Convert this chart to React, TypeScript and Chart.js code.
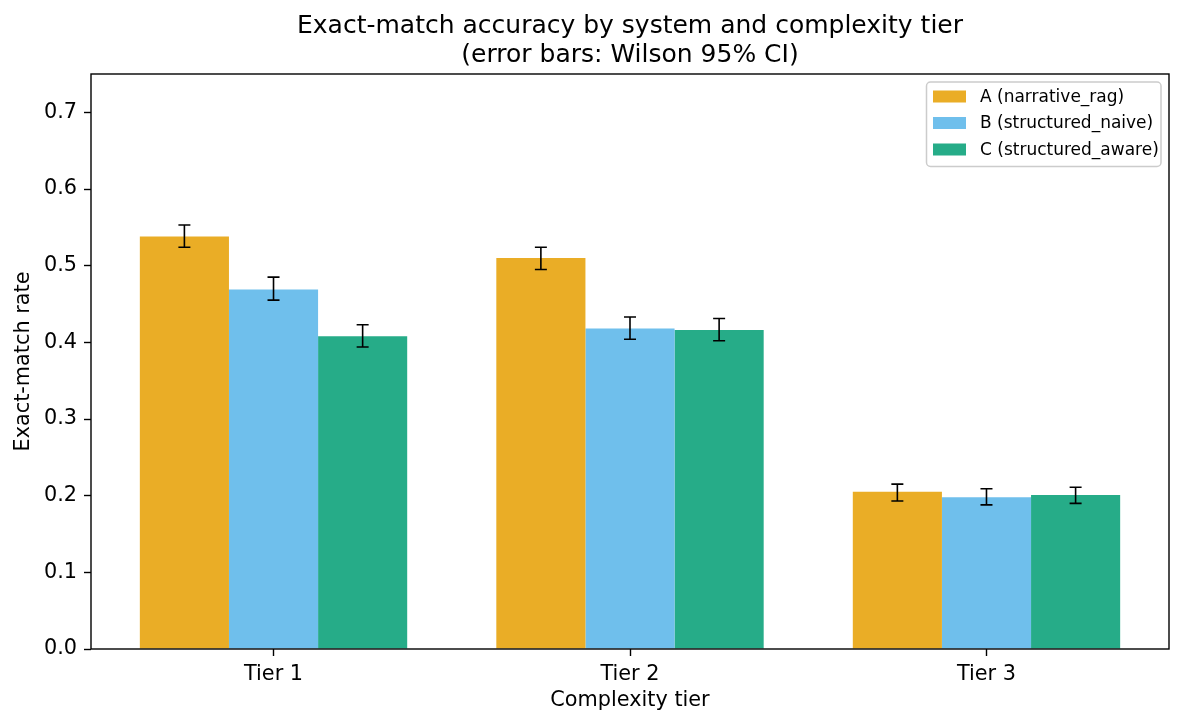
import React, { useEffect, useRef } from 'react';
import { Chart, registerables } from 'chart.js';

Chart.register(...registerables);

const FONT = '"DejaVu Sans", "Liberation Sans", sans-serif';

const tiers = ['Tier 1', 'Tier 2', 'Tier 3'];
const tierPositions = [0, 1, 2];
const seriesNames = ['A (narrative_rag)', 'B (structured_naive)', 'C (structured_aware)'];
const seriesColors = ['#EAAD26', '#6FBFEC', '#26AC88'];

const valuesA = [0.538, 0.51, 0.205];
const valuesB = [0.469, 0.418, 0.198];
const valuesC = [0.408, 0.416, 0.201];

const lowA = [0.524, 0.495, 0.193];
const highA = [0.553, 0.524, 0.215];
const lowB = [0.455, 0.404, 0.188];
const highB = [0.485, 0.433, 0.209];
const lowC = [0.394, 0.402, 0.19];
const highC = [0.423, 0.431, 0.211];

const yTicks = [0, 0.1, 0.2, 0.3, 0.4, 0.5, 0.6, 0.7];

const titleLines = ['Exact-match accuracy by system and complexity tier', '(error bars: Wilson 95% CI)'];
const xTitle = 'Complexity tier';
const yTitle = 'Exact-match rate';

const seriesValues = [valuesA, valuesB, valuesC];
const seriesLow = [lowA, lowB, lowC];
const seriesHigh = [highA, highB, highC];

const errorBarPlugin = {
  id: 'errorBars',
  afterDatasetsDraw(chart: any) {
    const ctx = chart.ctx;
    const yScale = chart.scales.y;
    ctx.save();
    ctx.strokeStyle = '#000';
    ctx.lineWidth = 1.6;
    chart.data.datasets.forEach((ds: any, i: number) => {
      const meta = chart.getDatasetMeta(i);
      meta.data.forEach((bar: any, j: number) => {
        const x = bar.x;
        const yLo = yScale.getPixelForValue(ds.errLow[j]);
        const yHi = yScale.getPixelForValue(ds.errHigh[j]);
        const cap = 6;
        ctx.beginPath();
        ctx.moveTo(x, yLo);
        ctx.lineTo(x, yHi);
        ctx.moveTo(x - cap, yLo);
        ctx.lineTo(x + cap, yLo);
        ctx.moveTo(x - cap, yHi);
        ctx.lineTo(x + cap, yHi);
        ctx.stroke();
      });
    });
    ctx.restore();
  },
};

const frameLegendPlugin = {
  id: 'frameLegend',
  afterDraw(chart: any) {
    const ctx = chart.ctx;
    const a = chart.chartArea;
    ctx.save();
    // axes frame
    ctx.strokeStyle = '#000';
    ctx.lineWidth = 1.4;
    ctx.strokeRect(a.left, a.top, a.right - a.left, a.bottom - a.top);

    // title, centred over the axes
    ctx.fillStyle = '#000';
    ctx.font = `25px ${FONT}`;
    ctx.textAlign = 'center';
    ctx.textBaseline = 'middle';
    const cx = (a.left + a.right) / 2;
    ctx.fillText(titleLines[0], cx, 26.5);
    ctx.fillText(titleLines[1], cx, 55);

    // legend
    const bx = 926.5;
    const by = 82;
    const bw = 234.5;
    const bh = 84.5;
    ctx.beginPath();
    (ctx as any).roundRect(bx, by, bw, bh, 4);
    ctx.fillStyle = 'rgba(255,255,255,0.8)';
    ctx.fill();
    ctx.strokeStyle = '#cccccc';
    ctx.lineWidth = 1.5;
    ctx.stroke();

    ctx.font = `17px ${FONT}`;
    ctx.textBaseline = 'middle';
    ctx.textAlign = 'left';
    chart.data.datasets.forEach((ds: any, i: number) => {
      const cy = 96.5 + i * 26.5;
      ctx.fillStyle = ds.backgroundColor;
      ctx.fillRect(933, cy - 6, 33, 12);
      ctx.fillStyle = '#000';
      ctx.fillText(ds.label, 980, cy + 1);
    });
    ctx.restore();
  },
};

export default function App() {
  const canvasRef = useRef<HTMLCanvasElement | null>(null);

  useEffect(() => {
    if (!canvasRef.current) return;
    const datasets = seriesNames.map((name, i) => ({
      label: name,
      data: tierPositions.map((x, j) => ({ x, y: seriesValues[i][j] })),
      backgroundColor: seriesColors[i],
      borderWidth: 0,
      errLow: seriesLow[i],
      errHigh: seriesHigh[i],
      categoryPercentage: 0.75,
      barPercentage: 1.0,
    }));

    const chart = new Chart(canvasRef.current, {
      type: 'bar',
      data: { datasets: datasets as any },
      options: {
        responsive: false,
        animation: false,
        devicePixelRatio: 1,
        layout: { padding: { top: 74, right: 15, left: 0, bottom: 0 } },
        plugins: {
          legend: { display: false },
          tooltip: { enabled: false },
          title: { display: false },
        },
        scales: {
          x: {
            type: 'linear',
            min: -0.512,
            max: 2.512,
            offset: false,
            afterBuildTicks: (scale: any) => {
              scale.ticks = tierPositions.map((v) => ({ value: v }));
            },
            afterFit: (scale: any) => {
              scale.height = 78;
            },
            ticks: {
              color: '#000',
              font: { family: FONT, size: 20.8 },
              padding: 6,
              maxRotation: 0,
              autoSkip: false,
              callback: (v: any) => tiers[tierPositions.indexOf(Number(v))] ?? '',
            },
            grid: {
              display: true,
              offset: false,
              drawOnChartArea: false,
              drawTicks: true,
              tickLength: 7,
              tickWidth: 1.4,
              tickColor: '#000',
            },
            border: { display: false },
            title: {
              display: true,
              text: xTitle,
              color: '#000',
              font: { family: FONT, size: 20.8, lineHeight: 1.2 },
              padding: { top: 0, bottom: 13.5 },
            },
          },
          y: {
            type: 'linear',
            min: 0,
            max: 0.75,
            afterBuildTicks: (scale: any) => {
              scale.ticks = yTicks.map((v) => ({ value: v }));
            },
            afterFit: (scale: any) => {
              scale.width = 91;
            },
            ticks: {
              color: '#000',
              font: { family: FONT, size: 20.8 },
              padding: 7,
              callback: (v: any) => Number(v).toFixed(1),
            },
            grid: {
              display: true,
              drawOnChartArea: false,
              drawTicks: true,
              tickLength: 7,
              tickWidth: 1.4,
              tickColor: '#000',
            },
            border: { display: false },
            title: {
              display: true,
              text: yTitle,
              color: '#000',
              font: { family: FONT, size: 20.8, lineHeight: 1.2 },
              padding: { top: 11, bottom: 0 },
            },
          },
        },
      } as any,
      plugins: [errorBarPlugin, frameLegendPlugin],
    });
    return () => chart.destroy();
  }, []);

  return (
    <div style={{ position: 'absolute', left: 0, top: 0, width: 1184, height: 727, background: '#fff' }}>
      <canvas ref={canvasRef} width={1184} height={727} style={{ display: 'block', width: 1184, height: 727 }} />
    </div>
  );
}
